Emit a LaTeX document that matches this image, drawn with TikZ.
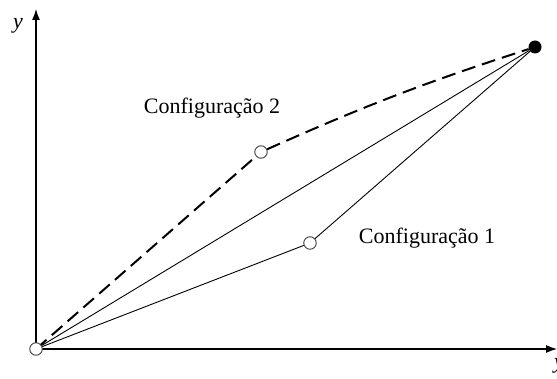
\documentclass[tikz,border=0pt]{standalone}
\usepackage{fontspec}
\setmainfont{Liberation Serif}
\usetikzlibrary{arrows.meta}
\begin{document}
\begin{tikzpicture}[x=1pt,y=1pt,
  axis/.style={line width=1.2pt,-{Latex[length=11pt,width=8pt]}},
  pt/.style={circle,draw=black!75,line width=0.9pt,fill=white,minimum size=12.5pt,inner sep=0pt},
  endpt/.style={circle,fill=black,minimum size=13pt,inner sep=0pt},
  thin line/.style={line width=0.9pt},
  dash line/.style={line width=2pt,dash pattern=on 14pt off 7pt},
  lbl/.style={font=\fontsize{22}{26}\selectfont}]
\useasboundingbox (0,0) rectangle (557,378);
\coordinate (O0) at (36,29);
\coordinate (ytop) at (36,369);
\coordinate (xend) at (557,29);
\draw[axis] (O0) -- (ytop);
\draw[axis] (O0) -- (xend);
\node[lbl,font=\fontsize{22}{26}\selectfont\itshape] (ylab) at (18,352) {y};
\node[lbl,font=\fontsize{22}{26}\selectfont\itshape] (xlab) at (559,12) {y};
\node[endpt] (E) at (535,331) {};
\node[pt] (C1) at (310,135) {};
\node[pt] (C2) at (261,226) {};
\draw[thin line] (O0) -- (E);
\draw[thin line] (O0) -- (C1) -- (E);
\draw[dash line] (O0) -- (C2) to[bend left=3] (E);
\node[pt] (O) at (O0) {};
\node[lbl] (t2) at (212,270) {Configuração 2};
\node[lbl] (t1) at (427,140) {Configuração 1};
\end{tikzpicture}
\end{document}
